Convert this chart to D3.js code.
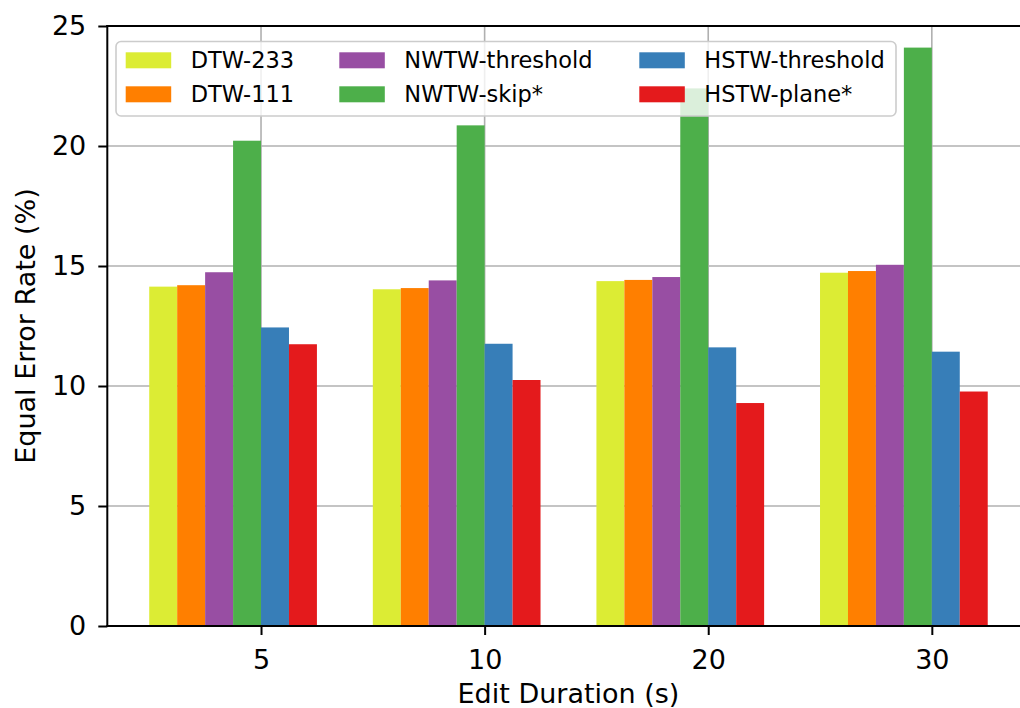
<!DOCTYPE html>
<html>
<head>
<meta charset="utf-8">
<script src="https://cdn.jsdelivr.net/npm/d3@7"></script>
<style>
  html, body { margin: 0; padding: 0; background: #fff; }
  svg { display: block; font-family: "DejaVu Sans", sans-serif; }
</style>
</head>
<body>
<svg id="chart" width="1020" height="708"></svg>
<script>
const categories = ["5", "10", "20", "30"];
const seriesNames = ["DTW-233", "DTW-111", "NWTW-threshold", "NWTW-skip*", "HSTW-threshold", "HSTW-plane*"];
const seriesColors = ["#dcec34", "#ff7f00", "#984ea3", "#4daf4a", "#377eb8", "#e41a1c"];
const dtw233 = [14.14, 14.03, 14.37, 14.72];
const dtw111 = [14.20, 14.08, 14.42, 14.79];
const nwtwThreshold = [14.74, 14.40, 14.54, 15.05];
const nwtwSkip = [20.22, 20.86, 22.40, 24.10];
const hstwThreshold = [12.44, 11.76, 11.61, 11.43];
const hstwPlane = [11.74, 10.25, 9.29, 9.77];
const seriesValues = [dtw233, dtw111, nwtwThreshold, nwtwSkip, hstwThreshold, hstwPlane];
const yTicks = [0, 5, 10, 15, 20, 25];

(function () {
const svg = d3.select("#chart");
const pLeft = 107.3, pTop = 26, pBottom = 626;
const unit = 223.6;
const xmin = -0.6875, xmax = 3.4375;
const x = d3.scaleLinear().domain([xmin, xmax]).range([pLeft, pLeft + (xmax - xmin) * unit]);
const y = d3.scaleLinear().domain([0, 25]).range([pBottom, pTop]);
const barW = 0.125;
const pRight = x(xmax);
const axisFont = 27;
const legendFont = 22.5;

// grid
const grid = svg.append("g");
grid.selectAll("line.hg").data(yTicks).join("line").attr("class", "hg")
  .attr("x1", pLeft).attr("x2", pRight)
  .attr("y1", d => y(d)).attr("y2", d => y(d))
  .attr("stroke", "#b0b0b0").attr("stroke-width", 1.6);
grid.selectAll("line.vg").data(categories).join("line").attr("class", "vg")
  .attr("x1", (d, i) => x(i)).attr("x2", (d, i) => x(i))
  .attr("y1", pTop).attr("y2", pBottom)
  .attr("stroke", "#b0b0b0").attr("stroke-width", 1.6);

// bars
seriesValues.forEach((vals, s) => {
  svg.append("g").selectAll("rect").data(vals).join("rect")
    .attr("x", (d, i) => x(i + (s - 4) * barW))
    .attr("width", x(barW) - x(0))
    .attr("y", d => y(d))
    .attr("height", d => y(0) - y(d))
    .attr("fill", seriesColors[s]);
});

// axes
const yAxis = d3.axisLeft(y).tickValues(yTicks).tickSize(9).tickPadding(12).tickFormat(d3.format("d"));
const gy = svg.append("g").attr("transform", `translate(${pLeft},0)`).call(yAxis);
gy.select(".domain").remove();
gy.selectAll("line").attr("stroke", "#000").attr("stroke-width", 2);
gy.selectAll("text").attr("font-size", axisFont).attr("fill", "#000").attr("font-family", "DejaVu Sans");

const xAxis = d3.axisBottom(x).tickValues([0, 1, 2, 3]).tickFormat(i => categories[i]).tickSize(9).tickPadding(15);
const gx = svg.append("g").attr("transform", `translate(0,${pBottom})`).call(xAxis);
gx.select(".domain").remove();
gx.selectAll("line").attr("stroke", "#000").attr("stroke-width", 2);
gx.selectAll("text").attr("font-size", axisFont).attr("fill", "#000").attr("font-family", "DejaVu Sans");

// spines
svg.append("line").attr("x1", pLeft).attr("x2", pLeft).attr("y1", pTop - 1).attr("y2", pBottom + 1)
  .attr("stroke", "#000").attr("stroke-width", 2);
svg.append("line").attr("x1", pLeft - 1).attr("x2", pRight).attr("y1", pBottom).attr("y2", pBottom)
  .attr("stroke", "#000").attr("stroke-width", 2);
svg.append("line").attr("x1", pLeft - 1).attr("x2", pRight).attr("y1", pTop).attr("y2", pTop)
  .attr("stroke", "#000").attr("stroke-width", 2);

// labels
svg.append("text").attr("x", (pLeft + pRight) / 2).attr("y", 703)
  .attr("text-anchor", "middle").attr("font-size", axisFont).text("Edit Duration (s)");
svg.append("text").attr("transform", `translate(35,${(pTop + pBottom) / 2}) rotate(-90)`)
  .attr("text-anchor", "middle").attr("font-size", axisFont).text("Equal Error Rate (%)");

// legend
const lg = svg.append("g");
lg.append("rect").attr("x", 116).attr("y", 41.5).attr("width", 780).attr("height", 74.5)
  .attr("rx", 5).attr("fill", "#fff").attr("fill-opacity", 0.8)
  .attr("stroke", "#cccccc").attr("stroke-width", 1.6);
const colX = [125.7, 339.3, 639.3];
const rowY = [60.3, 94.3];
seriesNames.forEach((name, s) => {
  const c = Math.floor(s / 2), r = s % 2;
  lg.append("rect").attr("x", colX[c]).attr("y", rowY[r] - 8).attr("width", 45.5).attr("height", 16)
    .attr("fill", seriesColors[s]);
  lg.append("text").attr("x", colX[c] + 65).attr("y", rowY[r]).attr("dy", "0.35em")
    .attr("font-size", legendFont).text(name);
});
})();
</script>
</body>
</html>
